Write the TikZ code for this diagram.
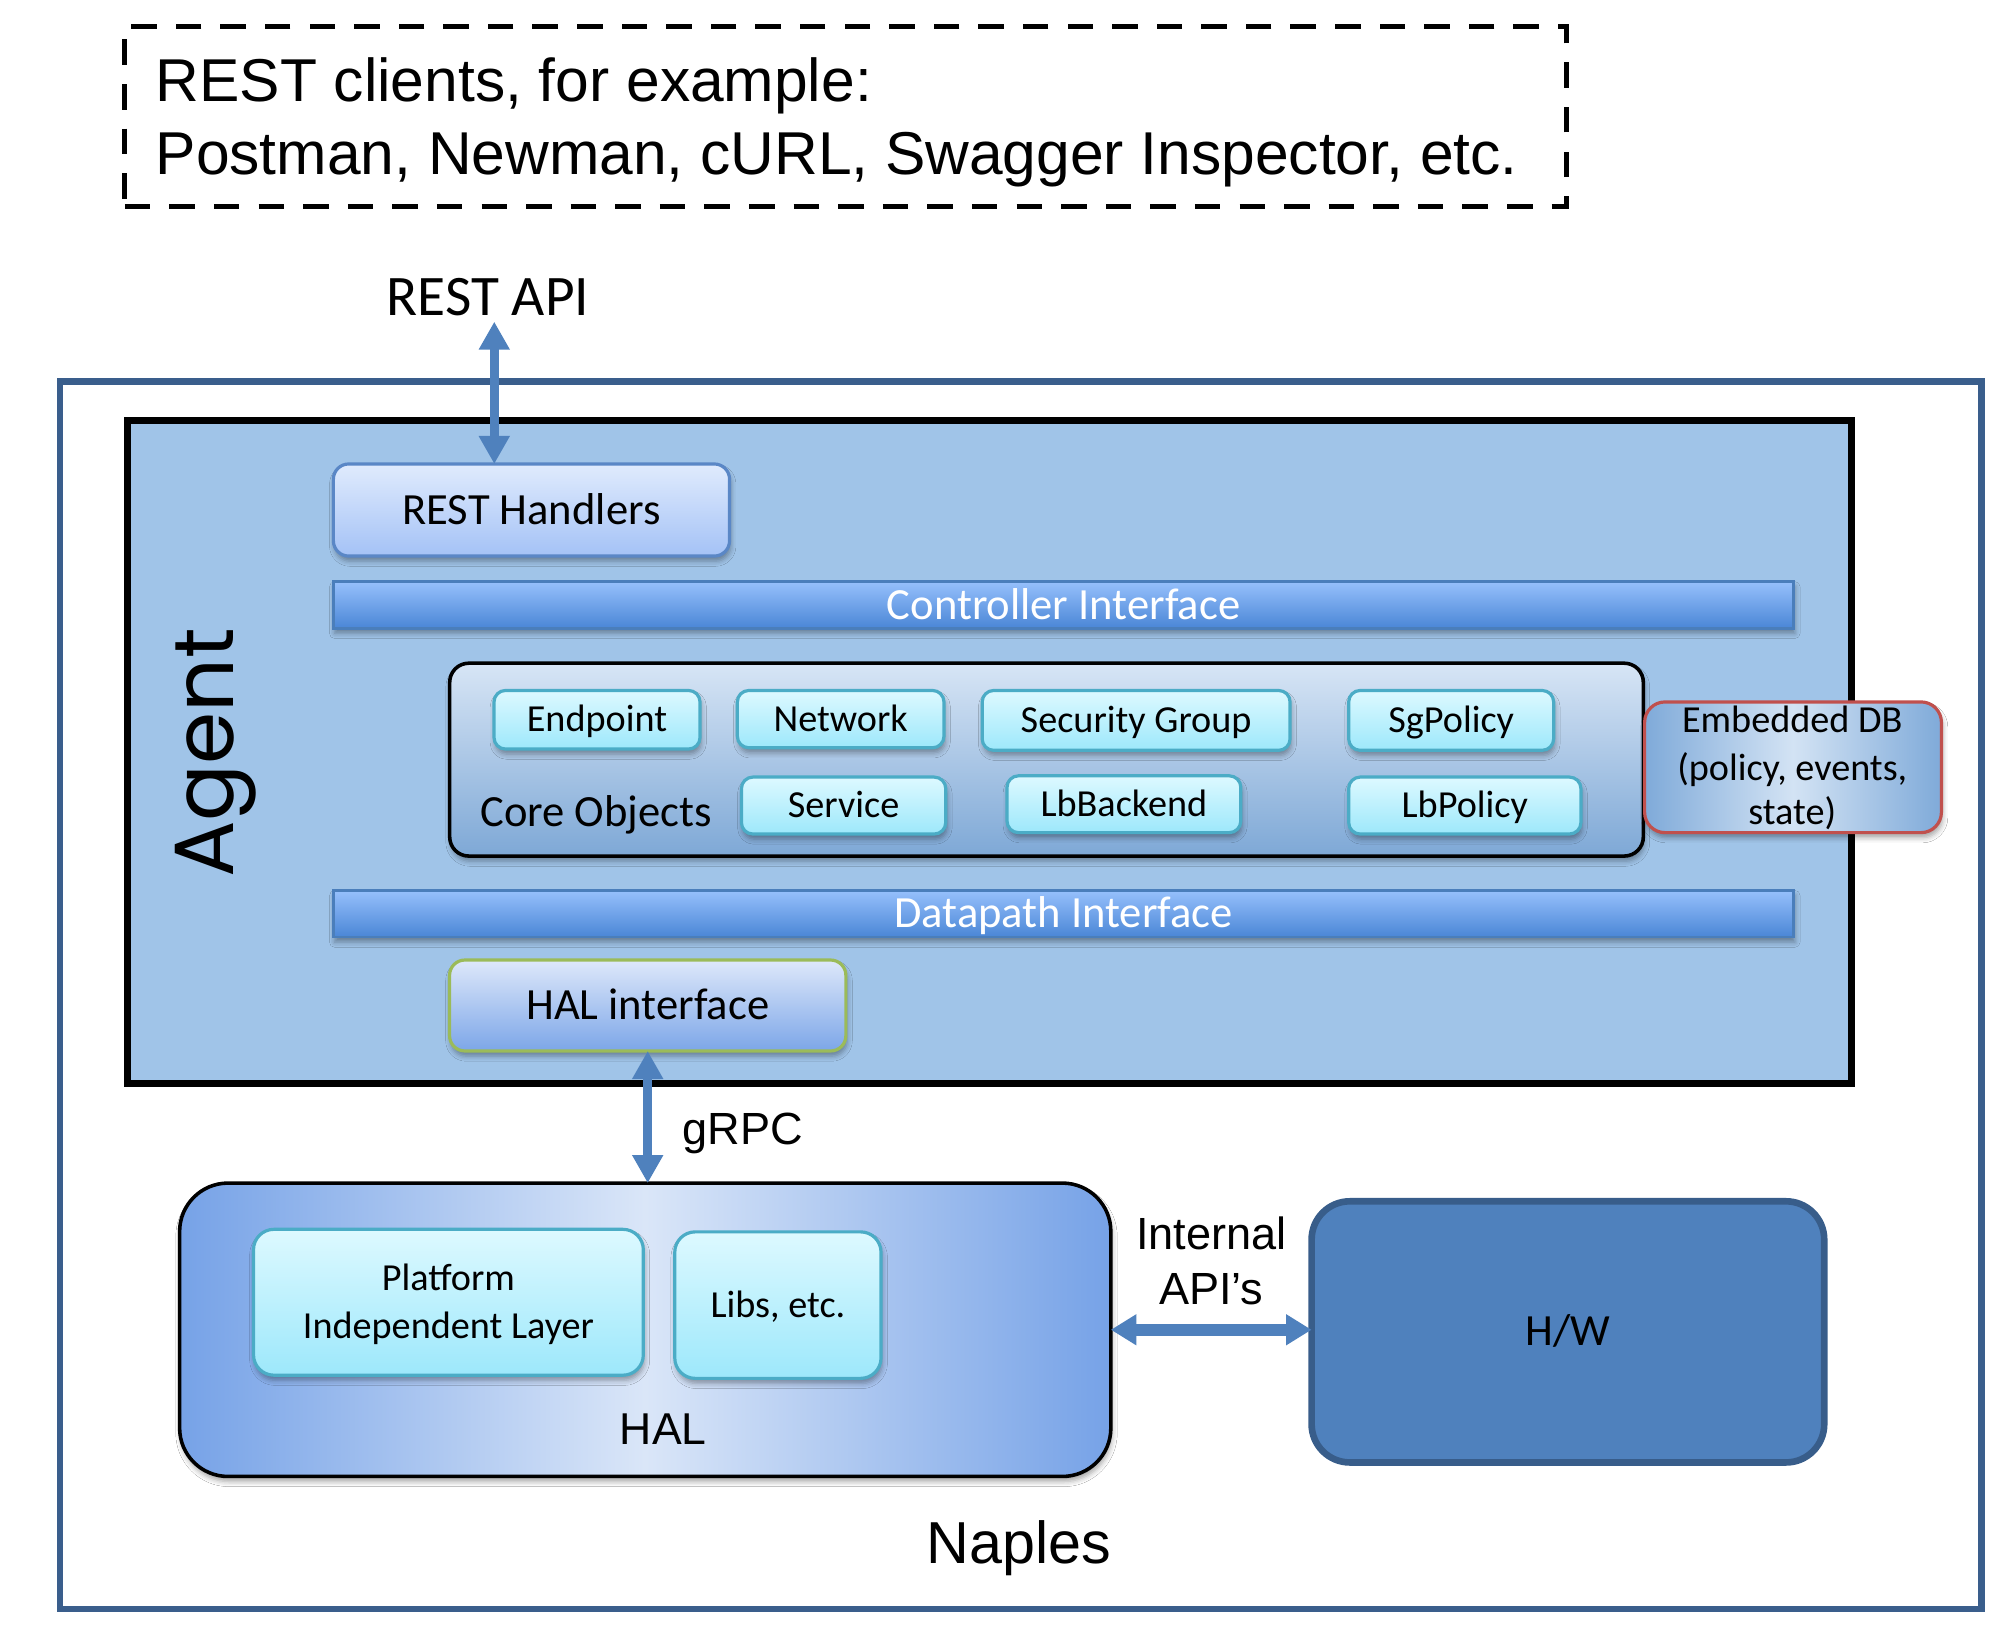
\documentclass[tikz,border=0pt]{standalone}
\usepackage{fontspec}
\setmainfont{Liberation Sans}
\newfontfamily\calibri{Carlito}
\newfontfamily\gothic{Poppins}
\usetikzlibrary{arrows.meta,shadows.blur}
\definecolor{arrowblue}{HTML}{4F81BD}
\definecolor{naplesline}{HTML}{3A5E8C}
\definecolor{agentfill}{HTML}{A0C4E8}
\definecolor{rhtop}{HTML}{E0EBFD}
\definecolor{rhbot}{HTML}{A4C2F6}
\definecolor{rhline}{HTML}{5A87C6}
\definecolor{bartop}{HTML}{96C0FC}
\definecolor{barbot}{HTML}{4A86D6}
\definecolor{barline}{HTML}{4A7EBB}
\definecolor{coretop}{HTML}{D7E5F5}
\definecolor{corebot}{HTML}{7EA8D6}
\definecolor{cyantop}{HTML}{DDF9FF}
\definecolor{cyanbot}{HTML}{9DE8FB}
\definecolor{cyanline}{HTML}{4BACC6}
\definecolor{haliftop}{HTML}{DEE8FA}
\definecolor{halifbot}{HTML}{7CA6E8}
\definecolor{halifline}{HTML}{9BBB59}
\definecolor{haledge}{HTML}{76A2E7}
\definecolor{halmid}{HTML}{DAE6F8}
\definecolor{dbedge}{HTML}{7FAAD9}
\definecolor{dbmid}{HTML}{D3E3F4}
\definecolor{dbline}{HTML}{C0504D}
\definecolor{hwfill}{HTML}{4F81BD}
\definecolor{hwline}{HTML}{385D8A}
\begin{document}
\begin{tikzpicture}[x=1pt,y=-1pt,
  shad/.style={blur shadow={shadow xshift=1pt,shadow yshift=-4pt,shadow blur radius=4pt,shadow opacity=35}},
  boxbase/.style={inner sep=0pt,outer sep=0pt},
  bigtxt/.style={font=\calibri\fontsize{35}{42}\selectfont,text height=22.1pt,text depth=0pt},
  smalltxt/.style={font=\calibri\fontsize{30}{36}\selectfont,text height=19pt,text depth=0pt},
  cyanbox/.style={boxbase,shad,rounded corners=9pt,top color=cyantop,bottom color=cyanbot,draw=cyanline,line width=2.5pt,smalltxt},
  barbox/.style={boxbase,shad,top color=bartop,bottom color=barbot,draw=barline,line width=2pt,bigtxt,text=white},
  bidir/.style={draw=arrowblue,line width=7.3pt,{Triangle[width=23pt,length=22pt]}-{Triangle[width=23pt,length=22pt]}},
  arialtxt/.style={font=\fontsize{35.4}{42}\selectfont,anchor=base}
]
\useasboundingbox (0,0) rectangle (1569.2,1277.2);

% REST clients box
\node[boxbase,draw=black,line width=4pt,dash pattern=on 20pt off 15pt,minimum width=1132pt,minimum height=141pt] (clients) at (664,91.5) {};
\node[anchor=base west,inner sep=0pt,font=\fontsize{47.5}{57}\selectfont] (cl1) at (122,79.6) {REST clients, for example:};
\node[anchor=base west,inner sep=0pt,font=\fontsize{47.5}{57}\selectfont] (cl2) at (122,136.7) {Postman, Newman, cURL, Swagger Inspector, etc.};

% REST API label
\node[anchor=base,inner sep=0pt,font=\calibri\fontsize{45}{54}\selectfont] (restapi) at (383,247.3) {REST API};
\coordinate (restapitip) at (388,252.5);

% Naples
\node[boxbase,draw=naplesline,fill=white,line width=5.2pt,minimum width=1508.5pt,minimum height=963.5pt] (naples) at (801.25,781.25) {};
\node[anchor=base,inner sep=0pt,font=\fontsize{46.5}{56}\selectfont] (naplestxt) at (800,1227) {Naples};

% Agent
\node[boxbase,draw=black,fill=agentfill,line width=5.4pt,minimum width=1353.4pt,minimum height=520.5pt] (agent) at (776.7,590.25) {};
\node[rotate=90,anchor=base,inner sep=0pt,font=\gothic\fontsize{66}{80}\selectfont] (agenttxt) at (183,591) {Agent};

% REST Handlers
\node[boxbase,shad,rounded corners=12pt,top color=rhtop,bottom color=rhbot,draw=rhline,line width=2.5pt,bigtxt,minimum width=311pt,minimum height=72.3pt] (resth) at (417.2,400.35) {REST Handlers};

% Controller Interface
\node[barbox,minimum width=1146.3pt,minimum height=36.6pt] (ctrl) at (834.85,474.9) {Controller Interface};

% Core Objects
\node[boxbase,shad,rounded corners=15pt,top color=coretop,bottom color=corebot,draw=black,line width=2.8pt,minimum width=937pt,minimum height=151.4pt] (core) at (821.5,596.3) {};
\node[anchor=base west,inner sep=0pt,font=\calibri\fontsize{35}{42}\selectfont] (coretxt) at (376.8,649) {Core Objects};

\node[cyanbox,minimum width=161.7pt,minimum height=46pt] (endpoint) at (468.65,565) {Endpoint};
\node[cyanbox,minimum width=162.2pt,minimum height=45pt] (network) at (659.9,564.5) {Network};
\node[cyanbox,minimum width=241.7pt,minimum height=47pt] (secgrp) at (891.85,565.5) {Security Group};
\node[cyanbox,minimum width=160.9pt,minimum height=47pt] (sgpol) at (1139.15,565.5) {SgPolicy};
\node[cyanbox,minimum width=160.4pt,minimum height=44.7pt] (service) at (662.2,632.35) {Service};
\node[cyanbox,minimum width=183.5pt,minimum height=44.6pt] (lbback) at (882.25,631.3) {LbBackend};
\node[cyanbox,minimum width=182.3pt,minimum height=44.7pt] (lbpol) at (1149.85,632.35) {LbPolicy};

% Embedded DB
\node[boxbase,shad,rounded corners=16pt,left color=dbedge,right color=dbedge,middle color=dbmid,draw=dbline,line width=2.5pt,minimum width=233pt,minimum height=102.6pt] (embdb) at (1407.5,602.3) {};
\node[anchor=base,inner sep=0pt,font=\calibri\fontsize{30}{36}\selectfont] (db1) at (1406.9,575) {Embedded DB};
\node[anchor=base,inner sep=0pt,font=\calibri\fontsize{30}{36}\selectfont] (db2) at (1406.9,612.8) {(policy, events,};
\node[anchor=base,inner sep=0pt,font=\calibri\fontsize{30}{36}\selectfont] (db3) at (1406.9,647.6) {state)};

% Datapath Interface
\node[barbox,minimum width=1146.3pt,minimum height=36.6pt] (datap) at (834.85,717.3) {Datapath Interface};

% HAL interface
\node[boxbase,shad,rounded corners=12pt,top color=haliftop,bottom color=halifbot,draw=halifline,line width=2.5pt,bigtxt,minimum width=311.1pt,minimum height=71.4pt] (halif) at (508.45,789.3) {HAL interface};

% HAL
\node[boxbase,shad,rounded corners=38pt,left color=haledge,right color=haledge,middle color=halmid,draw=black,line width=2.8pt,minimum width=731pt,minimum height=230.3pt] (hal) at (506.5,1043.85) {};
\node[arialtxt,inner sep=0pt,font=\fontsize{35}{42}\selectfont] (haltxt) at (520.6,1134) {HAL};

\node[cyanbox,rounded corners=16pt,minimum width=306pt,minimum height=114.5pt] (pil) at (352,1022.25) {};
\node[anchor=base,inner sep=0pt,font=\calibri\fontsize{30}{36}\selectfont] (pil1) at (352,1012.7) {Platform};
\node[anchor=base,inner sep=0pt,font=\calibri\fontsize{30}{36}\selectfont] (pil2) at (352,1050.5) {Independent Layer};
\node[cyanbox,rounded corners=16pt,minimum width=161.9pt,minimum height=115pt] (libs) at (610.65,1024.5) {Libs, etc.};

% H/W
\node[boxbase,rounded corners=30pt,fill=hwfill,draw=hwline,line width=5.2pt,bigtxt,minimum width=402.4pt,minimum height=205pt] (hw) at (1230.8,1045.5) {H/W};

% labels
\node[arialtxt,inner sep=0pt,anchor=base west] (grpc) at (535.8,898.8) {gRPC};
\node[arialtxt,inner sep=0pt] (int1) at (950.8,981) {Internal};
\node[arialtxt,inner sep=0pt] (int2) at (950.8,1024) {API’s};

% connectors
\draw[bidir] (restapitip) -- (restapitip |- resth.north);
\draw[bidir] (halif.south) -- (halif.south |- hal.north);
\draw[bidir,line width=9pt,{Triangle[width=23pt,length=20pt]}-{Triangle[width=23pt,length=20pt]}] (hal.east) -- (hal.east -| hw.west);
\end{tikzpicture}
\end{document}
